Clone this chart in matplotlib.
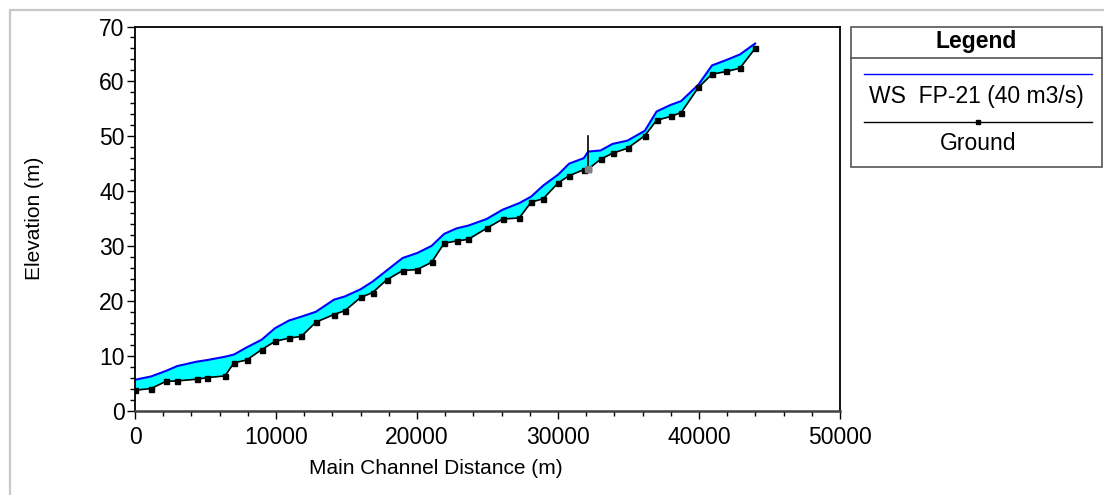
import matplotlib
matplotlib.use("Agg")
import matplotlib.pyplot as plt
from matplotlib.patches import Rectangle
from matplotlib.ticker import MultipleLocator

plt.rcParams['font.family'] = ['Liberation Sans', 'DejaVu Sans']

# ---- data ----
station = [0, 1130, 2180, 3000, 4370, 5130, 6380, 7020, 7920, 8980, 9930, 10920,
           11790, 12830, 14110, 14890, 16000, 16850, 17840, 18980, 20010, 21030,
           21930, 22810, 23630, 24930, 26070, 27250, 28100, 28950, 30010, 30790,
           31830, 32140, 33020, 33870, 34930, 36160, 36990, 37980, 38730, 39960,
           40920, 41950, 42900, 43980]
ground = [3.7, 4.0, 5.3, 5.4, 5.7, 6.0, 6.3, 8.7, 9.2, 11.1, 12.6, 13.2,
          13.5, 16.1, 17.5, 18.2, 20.6, 21.5, 23.8, 25.5, 25.7, 27.0,
          30.5, 30.9, 31.2, 33.2, 34.9, 35.1, 38.0, 38.6, 41.5, 42.8,
          43.9, 44.0, 45.8, 46.9, 47.8, 50.1, 52.9, 53.6, 54.3, 58.9,
          61.3, 61.8, 62.4, 66.0]
ws = [5.6, 6.2, 7.2, 8.1, 8.9, 9.2, 9.8, 10.2, 11.5, 12.9, 15.0, 16.4,
      17.1, 18.0, 20.2, 20.8, 22.1, 23.5, 25.5, 27.8, 28.7, 30.0,
      32.2, 33.2, 33.7, 34.9, 36.6, 37.8, 39.0, 41.0, 43.0, 45.0,
      46.0, 47.2, 47.4, 48.6, 49.2, 51.0, 54.5, 55.7, 56.4, 59.4,
      62.9, 63.9, 64.9, 66.9]
structure_station = 32140
structure_top = 50.0
ws_label = "WS  FP-21 (40 m3/s)"
ground_label = "Ground"

FS = 16.5
LFS = 15
W, H = 1104, 495
fig = plt.figure(figsize=(W / 100, H / 100), dpi=100)
fig.patch.set_facecolor('white')

# outer light gray frame
fig.add_artist(Rectangle((10 / W, -0.1), 1.2, 1 - 10 / H + 0.1,
                         transform=fig.transFigure, fill=False,
                         edgecolor='#c8c8c8', linewidth=1.6))

ax = fig.add_axes([135 / W, 1 - 410.5 / H, (840 - 135) / W, (410.5 - 26.5) / H])
ax.fill_between(station, ground, ws, color='#00ffff', linewidth=0, zorder=1)
ax.plot(station, ws, color='#0000ff', linewidth=1.5, zorder=2)
ax.plot(station, ground, color='black', linewidth=1.2, marker='s',
        markersize=3.6, zorder=3)
gi = station.index(structure_station)
ax.plot([structure_station, structure_station], [ground[gi], structure_top],
        color='black', linewidth=1.2, zorder=4)
ax.plot([structure_station], [ground[gi]], marker='s', color='#808080',
        markersize=4, zorder=5)

ax.set_xlim(0, 50000)
ax.set_ylim(0, 70)
ax.xaxis.set_major_locator(MultipleLocator(10000))
ax.xaxis.set_minor_locator(MultipleLocator(2000))
ax.yaxis.set_major_locator(MultipleLocator(10))
ax.yaxis.set_minor_locator(MultipleLocator(2))
ax.tick_params(which='major', direction='out', length=6, width=1, labelsize=FS,
               colors='black', pad=1.5)
ax.tick_params(axis='x', which='major', pad=5)
ax.tick_params(which='minor', direction='out', length=3.5, width=1)
for s in ax.spines.values():
    s.set_linewidth(1.3)
    s.set_color('black')
ax.spines['bottom'].set_color('#404040')
ax.spines['bottom'].set_linewidth(1.8)

fig.text(35 / W, 1 - 218 / H, 'Elevation (m)', rotation=90, ha='center',
         va='center', fontsize=LFS)
fig.text(436 / W, 1 - 468 / H, 'Main Channel Distance (m)', ha='center',
         va='center', fontsize=LFS)

# legend panel
lx0, lx1, ly0, ly1 = 851, 1102, 27, 167
lax = fig.add_axes([lx0 / W, 1 - ly1 / H, (lx1 - lx0) / W, (ly1 - ly0) / H])
lax.set_xlim(lx0, lx1)
lax.set_ylim(ly1, ly0)
lax.axis('off')
lax.add_patch(Rectangle((lx0, ly0), lx1 - lx0, ly1 - ly0, fill=False,
                        edgecolor='#555555', linewidth=1.2, clip_on=False))
lax.plot([lx0, lx1], [58.5, 58.5], color='#555555', linewidth=1.2, clip_on=False)
lax.text((lx0 + lx1) / 2, 42, 'Legend', ha='center', va='center',
         fontsize=FS, fontweight='bold')
lax.plot([864, 1092], [74.3, 74.3], color='#0000ff', linewidth=1)
lax.text(976, 97, ws_label, ha='center', va='center', fontsize=FS)
lax.plot([864, 1092], [121.7, 121.7], color='black', linewidth=1)
lax.plot([978], [121.7], marker='s', color='black', markersize=3)
lax.text(978, 143, ground_label, ha='center', va='center', fontsize=FS)

fig.savefig('out.png', dpi=100)
